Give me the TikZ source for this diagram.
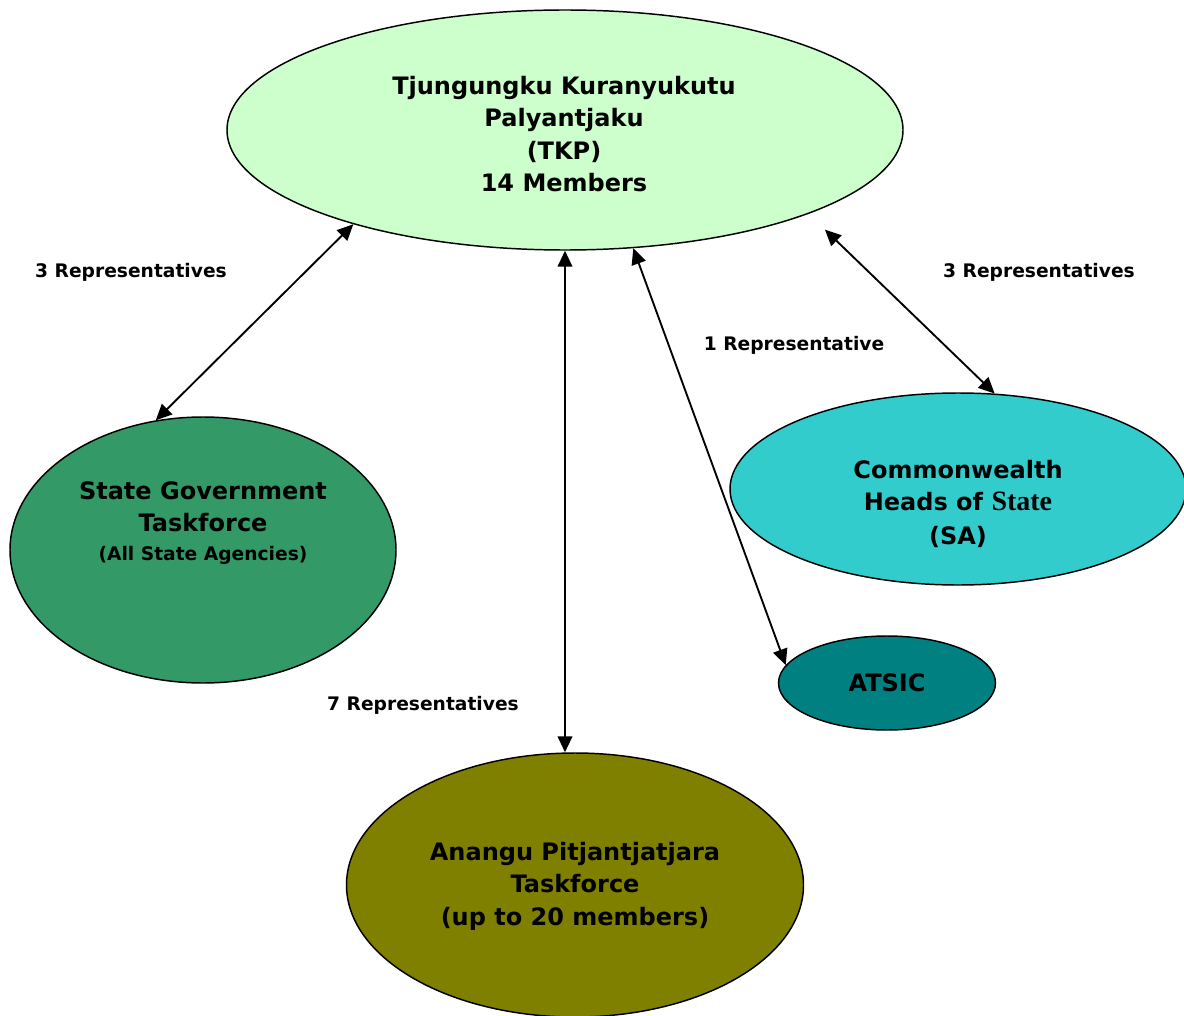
\documentclass[tikz,border=0pt]{standalone}
\usepackage{fontspec}
\setmainfont{DejaVu Sans}
\newfontfamily\serifbf{Liberation Serif}
\usepackage{xcolor}
\usetikzlibrary{shapes.geometric, arrows.meta}

\definecolor{tkpgreen}{HTML}{CCFFCC}
\definecolor{sggreen}{HTML}{339966}
\definecolor{cwcyan}{HTML}{33CCCC}
\definecolor{atsicteal}{HTML}{008080}
\definecolor{apolive}{HTML}{808000}

\tikzset{
	blob/.style={ellipse, draw, line width=1.1pt, inner sep=0pt, align=center,
		font=\bfseries\fontsize{18}{24}\selectfont},
	blobtext/.style={inner sep=0pt, align=center, font=\bfseries\fontsize{18}{24.3}\selectfont},
	rep/.style={inner sep=0pt, font=\bfseries\fontsize{14}{17}\selectfont}
}

\begin{document}
\begin{tikzpicture}[x=0.75pt, y=-0.75pt, >={Triangle[length=12pt, width=11pt]},
			line width=1.4pt]
		\useasboundingbox (0,0) rectangle (1184,1016);
		\clip (0,0) rectangle (1184,1016);

		\node[blob, fill=tkpgreen, minimum width=507pt, minimum height=180pt] (tkp) at (565,130) {};
		\node[blobtext] (tkptext) at (564,134)
			{Tjungungku Kuranyukutu\\Palyantjaku\\(TKP)\\14 Members};
		\node[blob, fill=sggreen, minimum width=289.5pt, minimum height=199.5pt] (sg) at (203,550) {};
		\node[blobtext] (sgtext) at (203,523)
			{State Government\\Taskforce\\[-3pt]{\fontsize{14}{17}\selectfont (All State Agencies)}};
		\node[blob, fill=cwcyan, minimum width=342pt, minimum height=144pt] (cw) at (958,489) {};
		\node[blobtext] (cwtext) at (958,504)
			{Commonwealth\\Heads of {\serifbf\bfseries\fontsize{21}{24}\selectfont State}\\[1pt](SA)};
		\node[blob, fill=atsicteal, minimum width=162.75pt, minimum height=70.5pt] (atsic) at (887,683) {ATSIC};
		\node[blob, fill=apolive, minimum width=342.75pt, minimum height=198pt] (ang) at (575,885) {};
		\node[blobtext] (angtext) at (575,886)
			{Anangu Pitjantjatjara\\Taskforce\\(up to 20 members)};

		\draw[<->] (tkp.204) -- (sg.110);
		\draw[<->] (tkp.south) -- (tkp.south |- ang.north);
		\draw[<->] (tkp.300) -- (atsic.170);
		\draw[<->, shorten <=17pt] (tkp.341) -- (cw.69);

		\node[rep] (lblsg) at (131,272) {3 Representatives};
		\node[rep] (lblcw) at (1039,272) {3 Representatives};
		\node[rep] (lblatsic) at (794,345) {1 Representative};
		\node[rep] (lblang) at (423,705) {7 Representatives};
	\end{tikzpicture}
\end{document}
